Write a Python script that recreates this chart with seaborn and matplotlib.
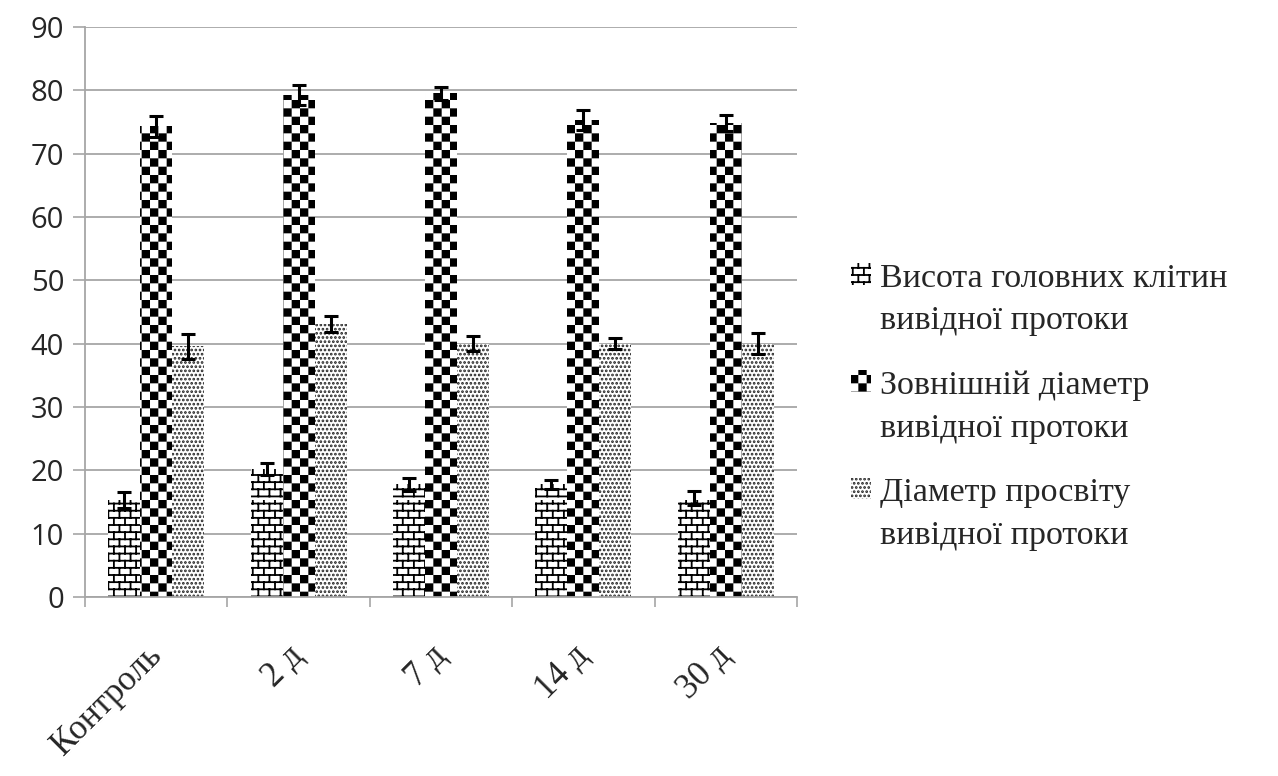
import warnings
warnings.filterwarnings("ignore")
import numpy as np
import pandas as pd
import matplotlib
matplotlib.use("Agg")
import matplotlib.pyplot as plt
import matplotlib.hatch as mhatch
from matplotlib.path import Path
from matplotlib.transforms import ScaledTranslation
import seaborn as sns

categories = ['Контроль', '2 д', '7 д', '14 д', '30 д']
series = ['Висота головних клітин\nвивідної протоки',
          'Зовнішній діаметр\nвивідної протоки',
          'Діаметр просвіту\nвивідної протоки']
height_vals = [15.3, 20.2, 17.8, 17.8, 15.7]
height_err = [1.3, 1.0, 1.0, 0.7, 1.1]
outer_vals = [74.3, 79.3, 79.5, 75.3, 74.8]
outer_err = [1.7, 1.6, 1.0, 1.6, 1.3]
lumen_vals = [39.6, 43.1, 40.0, 40.0, 40.0]
lumen_err = [2.0, 1.2, 1.2, 0.9, 1.7]
yticks = [0, 10, 20, 30, 40, 50, 60, 70, 80, 90]


# ---- custom hatch patterns (brick and checkerboard) ----
class CheckerHatch(mhatch.HatchPatternBase):
    def __init__(self, hatch, density):
        self.n = 12 if 'c' in hatch else 0
        self.num_vertices = (self.n * self.n // 2) * 5

    def set_vertices_and_codes(self, vertices, codes):
        n = self.n
        s = 1.0 / n
        e = 0.009
        k = 0
        for i in range(n):
            for j in range(n):
                if (i + j) % 2 == 0:
                    x0, y0 = i * s + e, j * s + e
                    x1, y1 = (i + 1) * s - e, (j + 1) * s - e
                    vertices[k:k + 5] = [[x0, y0], [x1, y0], [x1, y1], [x0, y1], [x0, y0]]
                    codes[k:k + 5] = [Path.MOVETO, Path.LINETO, Path.LINETO,
                                      Path.LINETO, Path.CLOSEPOLY]
                    k += 5


class BrickHatch(mhatch.HatchPatternBase):
    def __init__(self, hatch, density):
        self.rows = 14 if 'b' in hatch else 0
        self.cols = 9
        self.num_vertices = (self.rows + self.rows * self.cols) * 2 if self.rows else 0

    def set_vertices_and_codes(self, vertices, codes):
        r, c = self.rows, self.cols
        k = 0
        for j in range(r):
            y = (j + 0.5) / r
            vertices[k:k + 2] = [[0.0, y], [1.0, y]]
            codes[k:k + 2] = [Path.MOVETO, Path.LINETO]
            k += 2
        for j in range(r):
            y0 = (j + 0.5) / r
            y1 = (j + 1.5) / r
            for i in range(c):
                x = (i + 0.25 + 0.5 * (j % 2)) / c
                vertices[k:k + 2] = [[x, y0], [x, y1]]
                codes[k:k + 2] = [Path.MOVETO, Path.LINETO]
                k += 2


mhatch._hatch_types.append(CheckerHatch)
mhatch._hatch_types.append(BrickHatch)

sns.set_theme(style="white")
plt.rcParams['hatch.linewidth'] = 1.3

df = pd.DataFrame({
    'category': categories * 3,
    'series': [series[0]] * 5 + [series[1]] * 5 + [series[2]] * 5,
    'value': height_vals + outer_vals + lumen_vals,
})

fig = plt.figure(figsize=(12.78, 7.76), dpi=100)
ax = fig.add_axes([85 / 1278, 1 - 597 / 776, (797 - 85) / 1278, (597 - 27) / 776])

sns.barplot(data=df, x='category', y='value', hue='series', order=categories,
            hue_order=series, width=0.675, gap=0, errorbar=None,
            palette=['white'] * 3, saturation=1, edgecolor='black',
            linewidth=0, ax=ax)

bar_containers = list(ax.containers)
hatches = ['b', 'c', '....']
errs = [height_err, outer_err, lumen_err]
vals = [height_vals, outer_vals, lumen_vals]
for i, cont in enumerate(bar_containers):
    for p in cont.patches:
        p.set_hatch(hatches[i])
        p.set_edgecolor('black' if i < 2 else '#222222')
    xs = [p.get_x() + p.get_width() / 2 for p in cont.patches]
    ax.errorbar(xs, vals[i], yerr=errs[i], fmt='none', ecolor='black',
                elinewidth=2.2, capsize=5, capthick=2.2, zorder=5)

if ax.get_legend() is not None:
    ax.get_legend().remove()

ax.set_xlim(-0.5, 4.5)
ax.set_ylim(0, 90)
ax.set_yticks(yticks)
ax.set_yticklabels([str(t) for t in yticks], family='Open Sans', fontsize=21)
ax.yaxis.grid(True, color='#a6a6a6', linewidth=1.3)
ax.set_axisbelow(True)

ax.set_xticks(np.arange(-0.5, 5, 1))
ax.set_xticklabels([])
ax.set_xticks(np.arange(5), minor=True)
ax.set_xticklabels(categories, minor=True, rotation=45, ha='right',
                   rotation_mode='anchor', family='Liberation Serif',
                   fontsize=25)
ax.tick_params(axis='x', which='major', length=7, width=1.2, color='#a6a6a6',
               direction='out', bottom=True)
ax.tick_params(axis='x', which='minor', length=0, pad=24)
ax.tick_params(axis='y', length=9, width=1.2, color='#a6a6a6', direction='out',
               left=True, pad=6)
shift = ScaledTranslation(-0.11, -0.09, fig.dpi_scale_trans)
for lab in ax.get_xticklabels(minor=True):
    lab.set_transform(lab.get_transform() + shift)
ax.set_xlabel('')
ax.set_ylabel('')
for side in ['top', 'right']:
    ax.spines[side].set_visible(False)
for side in ['left', 'bottom']:
    ax.spines[side].set_color('#a6a6a6')
    ax.spines[side].set_linewidth(1.3)

leg = fig.legend(handles=bar_containers, labels=series, loc='center left',
                 bbox_to_anchor=(851 / 1278, 1 - 407 / 776), frameon=False,
                 prop={'family': 'Liberation Serif', 'size': 24.5},
                 handlelength=0.6, handleheight=0.6, handletextpad=0.25,
                 labelspacing=1.0, borderpad=0, borderaxespad=0)
for t in leg.get_texts():
    t.set_linespacing(1.52)
# put each legend marker level with the first line of its label
for col in leg._legend_handle_box.get_children():
    for row in col.get_children():
        row.align = 'top'

fig.savefig('out.png', dpi=100, facecolor='white')
